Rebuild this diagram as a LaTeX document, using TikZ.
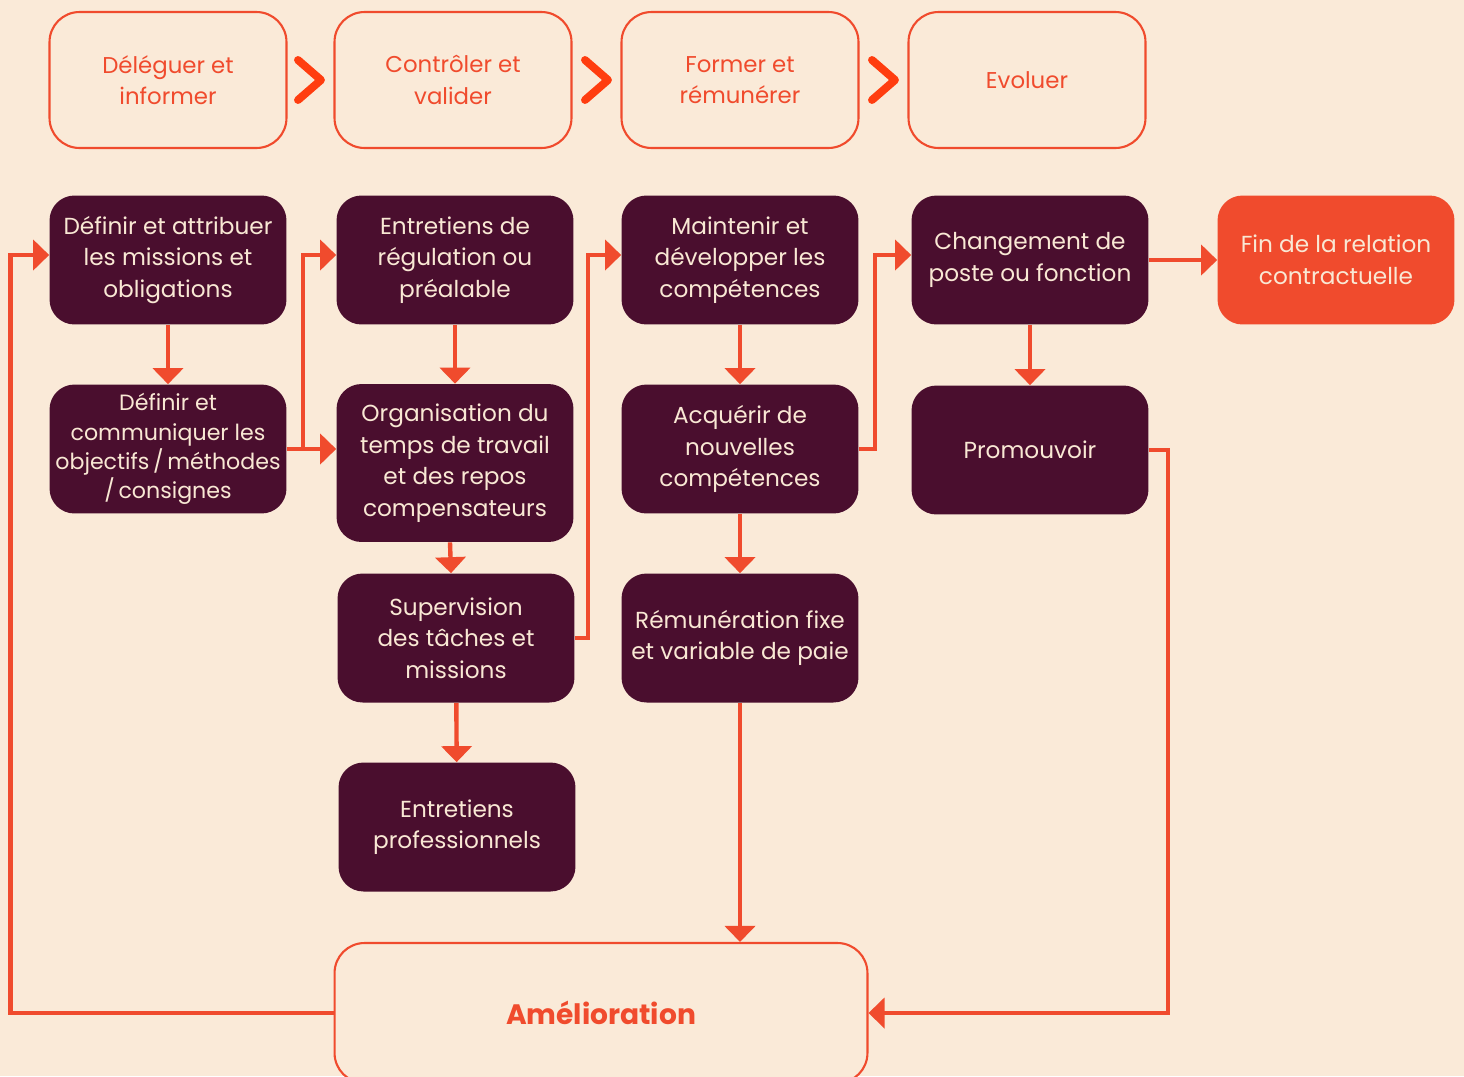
\documentclass[tikz,border=0pt]{standalone}
\usepackage{fontspec}
\setmainfont{Poppins}
\usetikzlibrary{arrows.meta}

\definecolor{fond}{HTML}{FAEAD8}
\definecolor{prune}{HTML}{4A0E2E}
\definecolor{corail}{HTML}{F04B2D}
\definecolor{creme}{HTML}{F9E8D4}
\definecolor{vif}{HTML}{FF3D0F}

\tikzset{
  etape/.style={draw=corail, fill=fond, line width=1.2pt, rounded corners=0.6cm, minimum width=4.74cm, minimum height=2.72cm, align=center, text=corail, font=\fontsize{13}{18}\selectfont},
  tache/.style={fill=prune, rounded corners=0.5cm, minimum width=4.74cm, minimum height=2.58cm, align=center, text=creme, font=\fontsize{13.2}{18}\selectfont},
  finale/.style={tache, fill=corail},
  bilan/.style={etape, minimum width=10.66cm, minimum height=2.8cm, font=\fontsize{16}{18}\selectfont\bfseries},
  lien/.style={draw=corail, line width=2.5pt, -{Triangle[width=0.6cm,length=0.32cm]}},
  chevron/.style={draw=vif, line width=4.5pt, line cap=round, line join=round}
}

\begin{document}
\begin{tikzpicture}[x=0.02cm, y=-0.02cm]
  \fill[fond] (0,0) rectangle (1464,1076);
  \useasboundingbox (0,0) rectangle (1464,1076);

  \node[etape] (deleguer) at (168,80) {Déléguer et\\informer};
  \node[etape] (controler) at (453,80) {Contrôler et\\valider};
  \node[etape] (former) at (740,80) {Former et\\rémunérer};
  \node[etape] (evoluer) at (1027,80) {Evoluer};
  \draw[chevron] (298,60) -- (321,80) -- (298,100);
  \draw[chevron] (585,60) -- (608,80) -- (585,100);
  \draw[chevron] (872,60) -- (895,80) -- (872,100);

  \node[tache] (missions) at (168,260) {Définir et attribuer\\les missions et\\obligations};
  \node[tache, inner xsep=0pt, font=\fontsize{12.6}{16.6}\selectfont] (objectifs) at (168,449) {Définir et\\communiquer les\\objectifs\,/\,méthodes\\/\,consignes};
  \node[tache] (regulation) at (455,260) {Entretiens de\\régulation ou\\préalable};
  \node[tache, minimum height=3.16cm] (temps) at (455,463) {Organisation du\\temps de travail\\et des repos\\compensateurs};
  \node[tache] (supervision) at (456,638) {Supervision\\des tâches et\\missions};
  \node[tache] (pros) at (457,827) {Entretiens\\professionnels};
  \node[tache] (maintenir) at (740,260) {Maintenir et\\développer les\\compétences};
  \node[tache] (acquerir) at (740,449) {Acquérir de\\nouvelles\\compétences};
  \node[tache] (remuneration) at (740,638) {Rémunération fixe\\et variable de paie};
  \node[tache] (changement) at (1030,260) {Changement de\\poste ou fonction};
  \node[tache] (promouvoir) at (1030,450) {Promouvoir};
  \node[finale] (fin) at (1336,260) {Fin de la relation\\contractuelle};
  \node[bilan] (amelioration) at (601,1013) {Amélioration};

  \draw[lien] (missions) -- (objectifs);
  \draw[lien] (regulation) -- (temps);
  \draw[lien] ([xshift=-0.1cm]temps.south) -- ([xshift=-0.1cm]supervision.north);
  \draw[lien] (supervision) -- (pros);
  \draw[lien] (maintenir) -- (acquerir);
  \draw[lien] (acquerir) -- (remuneration);
  \draw[lien] (changement) -- (promouvoir);
  \draw[lien] (changement) -- (fin);
  \draw[lien] (objectifs.east) -- (objectifs.east -| temps.west);
  \draw[lien] (objectifs.east) -- ++(16,0) |- ([yshift=0.1cm]regulation.west);
  \draw[lien] (supervision.east) -- ++(13,0) |- ([yshift=0.1cm]maintenir.west);
  \draw[lien] (acquerir.east) -- ++(16,0) |- ([yshift=0.1cm]changement.west);
  \draw[lien] (remuneration.south) -- (remuneration.south |- amelioration.north);
  \draw[lien] (promouvoir.east) -- ++(19,0) |- (amelioration.east);
  \draw[lien] (amelioration.west) -- ++(-323,0) |- ([yshift=0.1cm]missions.west);
\end{tikzpicture}
\end{document}
